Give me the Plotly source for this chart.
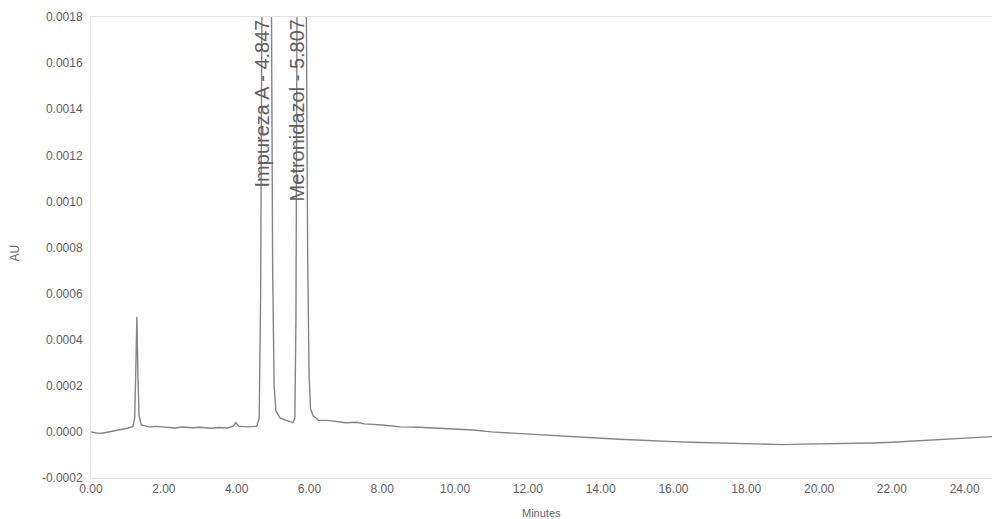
import plotly.graph_objects as go

# Chromatogram trace (minutes, AU)
time_min = [0.00, 0.15, 0.30, 0.50, 0.80, 1.00, 1.15, 1.20, 1.23, 1.26, 1.29, 1.32, 1.38,
            1.60, 1.80, 2.00, 2.30, 2.50, 2.80, 3.00, 3.30, 3.50, 3.75, 3.90, 3.98, 4.06, 4.30, 4.55,
            4.62, 4.66, 4.70, 4.76, 4.81, 4.88, 4.95, 4.99, 5.03, 5.08, 5.20, 5.40, 5.55,
            5.60, 5.63, 5.66, 5.71, 5.77, 5.84, 5.91, 5.95, 5.99, 6.03, 6.10, 6.25, 6.50,
            7.00, 7.30, 7.50, 8.00, 8.30, 8.50, 9.00, 9.50, 10.00, 10.50, 11.00, 11.50, 12.00, 12.50,
            13.00, 13.50, 14.00, 14.50, 15.00, 15.50, 16.00, 16.50, 17.00, 17.50, 18.00,
            18.50, 19.00, 19.50, 20.00, 20.50, 21.00, 21.50, 22.00, 22.50, 23.00, 23.50,
            24.00, 24.50, 24.80]
absorbance = [0.0, -0.000005, -0.000006, 0.0, 0.000010, 0.000016, 0.000024, 0.00006, 0.00026, 0.00050, 0.00024, 0.00007, 0.00003,
              0.000022, 0.000024, 0.000020, 0.000017, 0.000021, 0.000018, 0.000020, 0.000016, 0.000019, 0.000017, 0.000025, 0.000040, 0.000025, 0.000022, 0.000024,
              0.00006, 0.0006, 0.0020, 0.0045, 0.0060, 0.0045, 0.0020, 0.0007, 0.00020, 0.00009, 0.00006, 0.00005, 0.00004,
              0.00006, 0.0005, 0.0019, 0.0045, 0.0060, 0.0045, 0.0020, 0.0008, 0.00025, 0.00010, 0.00007, 0.00005, 0.00005,
              0.000040, 0.000042, 0.000035, 0.000030, 0.000026, 0.000022, 0.000020, 0.000017, 0.000012, 0.000008, 0.0, -0.000005, -0.000010, -0.000015,
              -0.000020, -0.000025, -0.000030, -0.000032, -0.000035, -0.000040, -0.000042, -0.000045, -0.000047, -0.000050, -0.000050,
              -0.000052, -0.000055, -0.000053, -0.000052, -0.000052, -0.000050, -0.000048, -0.000045, -0.000040, -0.000035, -0.000030,
              -0.000028, -0.000022, -0.000020]

peak_labels = ["Impureza A - 4.847", "Metronidazol - 5.807"]
peak_times = [4.847, 5.807]

x_ticks = [0, 2, 4, 6, 8, 10, 12, 14, 16, 18, 20, 22, 24]
y_ticks = [-0.0002, 0.0, 0.0002, 0.0004, 0.0006, 0.0008, 0.0010, 0.0012, 0.0014, 0.0016, 0.0018]

FONT = "Liberation Sans, Arial"

fig = go.Figure()
fig.add_trace(go.Scatter(x=time_min, y=absorbance, mode="lines",
                         line=dict(color="#858585", width=1.4), hoverinfo="skip"))

for lab, t in zip(peak_labels, peak_times):
    fig.add_annotation(x=t, y=1, xref="x", yref="paper", text=lab, showarrow=False,
                       textangle=-90, xanchor="center", yanchor="top", xshift=-5,
                       font=dict(family=FONT, size=20, color="#5f5f5f"))

fig.add_annotation(x=0.5, y=0, xref="paper", yref="paper", text="Minutes", showarrow=False,
                   xanchor="center", yanchor="top", yshift=-27,
                   font=dict(family=FONT, size=11, color="#666666"))
fig.add_annotation(x=0, y=0.5, xref="paper", yref="paper", text="AU", showarrow=False,
                   textangle=-90, xanchor="center", yanchor="middle", xshift=-77, yshift=-6,
                   font=dict(family=FONT, size=12, color="#666666"))

fig.update_layout(
    width=992, height=519,
    margin=dict(l=91, r=0, t=17, b=41),
    paper_bgcolor="white", plot_bgcolor="white",
    showlegend=False,
    font=dict(family=FONT, size=12, color="#606060"),
    xaxis=dict(range=[0, 24.75], tickvals=x_ticks, ticktext=[f"{v:.2f}" for v in x_ticks],
               showgrid=False, zeroline=False, showline=True, linecolor="#e4e4e4",
               linewidth=1, mirror=True, ticks="", ticklen=0),
    yaxis=dict(range=[-0.0002, 0.0018], tickvals=y_ticks, ticktext=[f"{v:.4f}" for v in y_ticks],
               showgrid=False, zeroline=False, showline=True, linecolor="#e4e4e4",
               linewidth=1, ticks="", ticklen=0, ticklabelstandoff=5),
)

fig.write_html("out.html")
